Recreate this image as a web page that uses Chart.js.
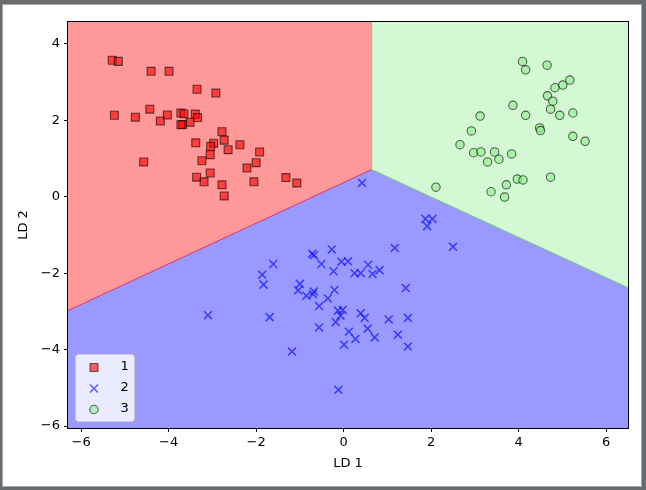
<!DOCTYPE html>
<html>
<head>
<meta charset="utf-8">
<script src="https://cdn.jsdelivr.net/npm/chart.js@4/dist/chart.umd.min.js"></script>
<style>
  body { margin: 0; }
  #frame { position: relative; width: 646px; height: 490px; background: #686c6f; }
  #inner { position: absolute; left: 2px; top: 4px; width: 640px; height: 483px; background: #fff; border: 1px solid #a8a8a8; box-sizing: border-box; }
  #myChart { position: absolute; left: 0; top: 0; }
</style>
</head>
<body>
<div id="frame">
  <div id="inner"></div>
  <canvas id="myChart" width="646" height="490"></canvas>
</div>
<script>
// class labels and tick labels
var classNames = ['1', '2', '3'];
var xTicks = [-6, -4, -2, 0, 2, 4, 6];
var yTicks = [-6, -4, -2, 0, 2, 4];
var xRange = [-6.3, 6.5];
var yRange = [-6.05, 4.57];

// decision boundary (where the three regions meet, and where the lower edges hit the sides)
var triplePoint = [0.64, 0.71];
var leftEdgeY = -2.98;
var rightEdgeY = -2.38;

// LDA projected points
var class1 = [
  [-5.29, 3.57], [-5.15, 3.54], [-4.40, 3.28], [-3.99, 3.28], [-3.35, 2.81], [-2.92, 2.71],
  [-5.24, 2.13], [-4.76, 2.08], [-4.43, 2.29], [-4.19, 1.98], [-4.03, 2.14], [-3.72, 2.19],
  [-3.65, 2.17], [-3.68, 1.89], [-3.72, 1.88], [-3.51, 1.95], [-3.39, 2.16], [-3.34, 2.07],
  [-2.78, 1.70], [-3.38, 1.41], [-2.97, 1.40], [-3.04, 1.32], [-2.73, 1.48], [-2.37, 1.36],
  [-2.64, 1.23], [-1.92, 1.17], [-3.05, 1.10], [-3.24, 0.94], [-4.57, 0.91], [-2.00, 0.89],
  [-2.21, 0.75], [-3.05, 0.62], [-3.36, 0.51], [-3.19, 0.39], [-2.78, 0.31], [-2.05, 0.39],
  [-1.32, 0.50], [-1.07, 0.36], [-2.73, 0.02]
];
var class2 = [
  [0.42, 0.36], [1.87, -0.58], [2.03, -0.58], [1.91, -0.77], [2.50, -1.31], [1.17, -1.34],
  [-0.27, -1.38], [-0.72, -1.49], [-0.68, -1.53], [-0.51, -1.76], [-0.05, -1.70], [0.10, -1.69],
  [0.56, -1.78], [-0.23, -1.95], [0.25, -2.00], [0.39, -2.00], [0.66, -2.02], [0.82, -1.92],
  [-1.61, -1.76], [-1.86, -2.04], [-1.83, -2.30], [-1.00, -2.28], [-1.04, -2.45], [-0.85, -2.59],
  [-0.68, -2.48], [-0.70, -2.55], [-0.21, -2.44], [-0.36, -2.66], [-0.56, -2.86], [1.42, -2.39],
  [-0.13, -2.98], [-0.02, -2.96], [-0.07, -3.11], [-0.18, -3.28], [0.39, -3.05], [0.48, -3.17],
  [1.03, -3.21], [1.47, -3.17], [-0.56, -3.42], [0.12, -3.53], [0.55, -3.45], [0.27, -3.72],
  [0.71, -3.68], [1.24, -3.61], [0.01, -3.87], [1.47, -3.92], [-3.10, -3.10], [-1.69, -3.15],
  [-1.18, -4.05], [-0.12, -5.05]
];
var class3 = [
  [4.09, 3.54], [4.16, 3.32], [4.65, 3.44], [5.17, 3.05], [5.01, 2.92], [4.83, 2.85],
  [4.66, 2.64], [4.78, 2.50], [4.73, 2.29], [4.94, 2.13], [5.24, 2.19], [3.87, 2.39],
  [4.16, 2.13], [3.12, 2.11], [2.92, 1.72], [4.48, 1.80], [4.50, 1.73], [5.24, 1.58],
  [5.52, 1.45], [2.66, 1.36], [2.97, 1.15], [3.14, 1.17], [3.45, 1.17], [3.29, 0.91],
  [3.55, 0.98], [3.84, 1.12], [3.97, 0.46], [4.10, 0.44], [4.73, 0.51], [3.72, 0.31],
  [3.37, 0.13], [3.68, -0.01], [2.11, 0.25]
];

var font = { family: 'DejaVu Sans', size: 13 };
function fmt(v) { return v < 0 ? '\u2212' + Math.abs(v) : String(v); }
function toPts(arr) { return arr.map(function (p) { return { x: p[0], y: p[1] }; }); }

// filled decision regions, drawn under the points
var regionsPlugin = {
  id: 'regions',
  beforeDatasetsDraw: function (chart) {
    var ctx = chart.ctx, xs = chart.scales.x, ys = chart.scales.y, a = chart.chartArea;
    var px = function (v) { return xs.getPixelForValue(v); };
    var py = function (v) { return ys.getPixelForValue(v); };
    var x0 = xRange[0], x1 = xRange[1], y0 = yRange[0], y1 = yRange[1];
    var tx = triplePoint[0], ty = triplePoint[1];
    var polys = [
      { c: '#ff9999', p: [[x0, y1], [tx, y1], [tx, ty], [x0, leftEdgeY]] },
      { c: '#d3f8d3', p: [[tx, y1], [x1, y1], [x1, rightEdgeY], [tx, ty]] },
      { c: '#9999ff', p: [[x0, leftEdgeY], [tx, ty], [x1, rightEdgeY], [x1, y0], [x0, y0]] }
    ];
    ctx.save();
    ctx.beginPath();
    ctx.rect(a.left, a.top, a.right - a.left, a.bottom - a.top);
    ctx.clip();
    polys.forEach(function (r) {
      ctx.beginPath();
      r.p.forEach(function (q, i) {
        if (i === 0) ctx.moveTo(px(q[0]), py(q[1])); else ctx.lineTo(px(q[0]), py(q[1]));
      });
      ctx.closePath();
      ctx.fillStyle = r.c;
      ctx.fill();
    });
    // thin edges along the boundaries
    ctx.lineWidth = 1;
    ctx.strokeStyle = 'rgba(210,20,90,0.8)';
    ctx.beginPath(); ctx.moveTo(px(x0), py(leftEdgeY)); ctx.lineTo(px(tx), py(ty)); ctx.stroke();
    ctx.strokeStyle = 'rgba(110,200,120,0.9)';
    ctx.beginPath(); ctx.moveTo(px(tx), py(y1)); ctx.lineTo(px(tx), py(ty)); ctx.lineTo(px(x1), py(rightEdgeY)); ctx.stroke();
    ctx.restore();
  },
  afterDatasetsDraw: function (chart) {
    var ctx = chart.ctx, a = chart.chartArea;
    ctx.save();
    ctx.strokeStyle = '#000';
    ctx.lineWidth = 1;
    ctx.strokeRect(Math.round(a.left) - 0.5, Math.round(a.top) - 0.5, Math.round(a.right - a.left) + 1, Math.round(a.bottom - a.top) + 1);
    ctx.restore();
  }
};

// legend box in the lower left corner
var legendPlugin = {
  id: 'boxLegend',
  afterDraw: function (chart) {
    var ctx = chart.ctx, a = chart.chartArea;
    var bx = a.left + 7.5, by = a.bottom - 73.5, bw = 59, bh = 67;
    ctx.save();
    ctx.beginPath();
    ctx.roundRect(bx, by, bw, bh, 3);
    ctx.fillStyle = 'rgba(255,255,255,0.8)';
    ctx.fill();
    ctx.strokeStyle = 'rgba(204,204,204,0.8)';
    ctx.lineWidth = 1;
    ctx.stroke();
    chart.data.datasets.forEach(function (ds, i) {
      var cy = by + 13 + i * 21;
      ctx.fillStyle = ds.backgroundColor;
      ctx.strokeStyle = ds.borderColor;
      ctx.lineWidth = ds.borderWidth;
      Chart.helpers.drawPoint(ctx, { pointStyle: ds.pointStyle, radius: ds.pointRadius, borderWidth: ds.borderWidth, rotation: 0 }, bx + 18.5, cy);
      ctx.fillStyle = '#000';
      ctx.font = '13px "DejaVu Sans"';
      ctx.textBaseline = 'middle';
      ctx.textAlign = 'left';
      ctx.fillText(ds.label, bx + 45, cy - 1);
    });
    ctx.restore();
  }
};

var ctx = document.getElementById('myChart').getContext('2d');
var myChart = new Chart(ctx, {
  type: 'scatter',
  data: {
    datasets: [{
      label: classNames[0],
      data: toPts(class1),
      pointStyle: 'rect',
      pointRadius: 5.6,
      borderWidth: 1.1,
      backgroundColor: 'rgba(255,0,0,0.6)',
      borderColor: 'rgba(0,0,0,0.6)'
    }, {
      label: classNames[1],
      data: toPts(class2),
      pointStyle: 'crossRot',
      pointRadius: 5.6,
      borderWidth: 1.6,
      backgroundColor: 'rgba(0,0,255,0.6)',
      borderColor: 'rgba(0,0,255,0.6)'
    }, {
      label: classNames[2],
      data: toPts(class3),
      pointStyle: 'circle',
      pointRadius: 4.2,
      borderWidth: 1.1,
      backgroundColor: 'rgba(144,238,144,0.6)',
      borderColor: 'rgba(0,0,0,0.6)'
    }]
  },
  options: {
    responsive: false,
    animation: false,
    events: [],
    layout: { padding: { left: 0, top: 22, right: 18, bottom: 0 } },
    plugins: { legend: { display: false }, tooltip: { enabled: false } },
    scales: {
      x: {
        type: 'linear',
        min: xRange[0],
        max: xRange[1],
        afterBuildTicks: function (s) { s.ticks = xTicks.map(function (v) { return { value: v }; }); },
        afterFit: function (s) { s.height = 62; },
        grid: { drawOnChartArea: false, drawTicks: true, tickLength: 4, color: '#000' },
        border: { display: true, color: '#000' },
        ticks: { color: '#000', font: font, padding: 3, maxRotation: 0, callback: fmt },
        title: { display: true, text: 'LD 1', color: '#000', font: font, padding: { top: 0, bottom: 19 } }
      },
      y: {
        type: 'linear',
        min: yRange[0],
        max: yRange[1],
        afterBuildTicks: function (s) { s.ticks = yTicks.map(function (v) { return { value: v }; }); },
        afterFit: function (s) { s.width = 68; },
        grid: { drawOnChartArea: false, drawTicks: true, tickLength: 4, color: '#000' },
        border: { display: true, color: '#000' },
        ticks: { color: '#000', font: font, padding: 4, callback: fmt },
        title: { display: true, text: 'LD 2', color: '#000', font: font, padding: { top: 16, bottom: 0 } }
      }
    }
  },
  plugins: [regionsPlugin, legendPlugin]
});
</script>
</body>
</html>
